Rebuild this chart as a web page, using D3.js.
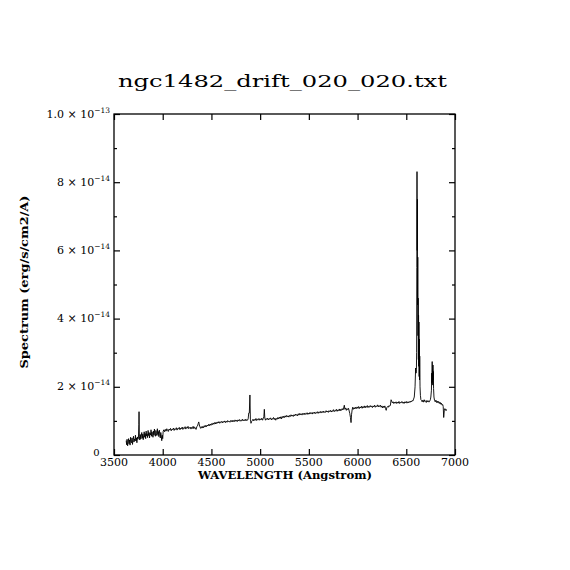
<!DOCTYPE html>
<html><head><meta charset="utf-8">
<script src="https://cdn.jsdelivr.net/npm/d3@7"></script>
<style>
html,body{margin:0;padding:0;background:#fff;}
svg{display:block;}
text{font-family:"DejaVu Serif","Liberation Serif",serif;fill:#000;}
</style></head><body>
<svg id="chart" width="570" height="570"></svg>
<script>
const titleText = "ngc1482_drift_020_020.txt";
const xLabel = "WAVELENGTH (Angstrom)";
const yLabel = "Spectrum (erg/s/cm2/A)";
const xTicks = [3500, 4000, 4500, 5000, 5500, 6000, 6500, 7000];
const yMajorTicks = [0, 2e-14, 4e-14, 6e-14, 8e-14, 1e-13];
const yMinorTicks = [1e-14, 3e-14, 5e-14, 7e-14, 9e-14];
const yTickLabels = [
  {main: "0", exp: ""},
  {main: "2 × 10", exp: "−14"},
  {main: "4 × 10", exp: "−14"},
  {main: "6 × 10", exp: "−14"},
  {main: "8 × 10", exp: "−14"},
  {main: "1.0 × 10", exp: "−13"}
];
const fluxUnit = 1e-14;
// [wavelength (Angstrom), flux (1e-14 erg/s/cm2/A)]
const spectrum = [
[3625,0.42],[3630,0.30],[3634,0.46],[3640,0.27],[3645,0.38],[3650,0.48],[3655,0.33],[3660,0.44],
[3665,0.29],[3670,0.52],[3675,0.40],[3680,0.36],[3685,0.50],[3690,0.31],[3695,0.45],[3700,0.55],
[3705,0.38],[3710,0.47],[3715,0.42],[3720,0.58],[3725,0.41],[3730,0.50],[3735,0.36],[3740,0.53],
[3745,0.46],[3751,0.50],[3755,0.90],[3757,1.27],[3760,0.55],[3765,0.44],[3770,0.60],[3775,0.47],
[3780,0.56],[3785,0.66],[3790,0.49],[3795,0.61],[3800,0.45],[3805,0.58],[3810,0.68],[3815,0.52],
[3820,0.63],[3825,0.48],[3830,0.70],[3835,0.56],[3840,0.62],[3845,0.51],[3850,0.72],[3855,0.57],
[3860,0.66],[3865,0.50],[3870,0.64],[3875,0.59],[3880,0.74],[3885,0.55],[3890,0.68],[3895,0.60],
[3900,0.52],[3905,0.70],[3910,0.58],[3915,0.76],[3920,0.61],[3925,0.55],[3930,0.72],[3935,0.63],
[3940,0.57],[3945,0.77],[3950,0.60],[3955,0.69],[3960,0.54],[3965,0.73],[3970,0.62],[3975,0.50],
[3980,0.66],[3985,0.56],[3990,0.42],[3995,0.58],[4000,0.48],
[4005,0.70],[4012,0.74],[4020,0.68],[4027,0.75],[4035,0.70],[4042,0.77],[4050,0.72],[4057,0.69],
[4065,0.76],[4072,0.73],[4080,0.78],[4087,0.71],[4095,0.76],[4102,0.74],[4110,0.79],[4117,0.72],
[4125,0.77],[4132,0.75],[4140,0.80],[4147,0.73],[4155,0.78],[4162,0.76],[4170,0.81],[4177,0.74],
[4185,0.79],[4192,0.77],[4200,0.82],[4207,0.75],[4215,0.80],[4222,0.78],[4230,0.83],[4237,0.76],
[4245,0.81],[4252,0.79],[4260,0.84],[4267,0.77],[4275,0.80],[4282,0.82],[4290,0.76],[4297,0.81],
[4305,0.78],[4312,0.84],[4320,0.77],[4327,0.82],[4335,0.80],[4342,0.75],[4350,0.83],[4357,0.85],
[4364,0.92],[4370,0.97],[4376,0.88],[4383,0.82],[4390,0.78],[4397,0.83],[4405,0.79],[4412,0.84],
[4420,0.80],[4427,0.86],[4435,0.82],[4442,0.87],[4450,0.83],[4457,0.88],[4465,0.85],[4472,0.90],
[4480,0.86],[4487,0.91],[4495,0.87],[4502,0.92],[4510,0.89],[4517,0.94],[4525,0.90],[4532,0.95],
[4540,0.91],[4547,0.96],[4555,0.92],[4562,0.97],[4570,0.94],[4577,0.98],[4585,0.93],[4592,0.97],
[4600,0.95],[4607,0.99],[4615,0.94],[4622,0.98],[4630,0.96],[4637,1.00],[4645,0.95],[4652,0.99],
[4660,0.96],[4667,1.01],[4675,0.97],[4682,0.99],[4690,0.96],[4697,1.01],[4705,0.98],[4712,1.02],
[4720,0.97],[4727,1.01],[4735,0.98],[4742,1.03],[4750,0.99],[4757,1.02],[4765,0.98],[4772,1.03],
[4780,1.00],[4787,1.04],[4795,0.99],[4802,1.02],[4810,1.00],[4817,1.05],[4825,1.00],[4832,1.03],
[4840,1.01],[4847,1.05],[4855,1.00],[4862,1.04],[4870,1.02],[4877,1.06],[4883,1.23],[4889,1.23],
[4895,1.76],[4900,1.05],[4906,0.93],[4912,0.98],[4920,1.01],[4927,1.05],[4935,1.00],[4942,1.04],
[4950,1.02],[4957,1.07],[4965,1.01],[4972,1.05],[4980,1.03],[4987,1.07],[4995,1.02],[5002,1.06],
[5010,1.03],[5017,1.08],[5025,1.02],[5032,1.07],[5038,1.12],[5043,1.34],[5048,1.08],[5055,1.02],
[5062,1.07],[5070,1.04],[5077,1.08],[5085,1.03],[5092,1.07],[5100,1.05],[5107,1.09],[5115,1.03],
[5122,1.07],[5130,1.05],[5137,1.10],[5145,1.04],[5152,1.08],[5160,1.02],[5167,1.07],[5175,1.05],
[5182,1.10],[5190,1.06],[5197,1.11],[5205,1.07],[5212,1.12],[5220,1.06],[5227,1.13],[5235,1.09],
[5242,1.14],[5250,1.10],[5257,1.15],[5265,1.11],[5272,1.16],[5280,1.12],[5287,1.15],[5295,1.11],
[5302,1.16],[5310,1.13],[5317,1.18],[5325,1.14],[5332,1.17],[5340,1.13],[5347,1.18],[5355,1.15],
[5362,1.20],[5370,1.16],[5377,1.19],[5385,1.15],[5392,1.21],[5400,1.17],[5407,1.22],[5415,1.18],
[5422,1.21],[5430,1.17],[5437,1.22],[5445,1.19],[5452,1.23],[5460,1.18],[5467,1.22],[5475,1.20],
[5482,1.24],[5490,1.19],[5497,1.23],[5505,1.20],[5512,1.25],[5520,1.21],[5527,1.24],[5535,1.20],
[5542,1.25],[5550,1.22],[5557,1.26],[5565,1.21],[5572,1.25],[5580,1.23],[5587,1.27],[5595,1.22],
[5602,1.26],[5610,1.24],[5617,1.28],[5625,1.23],[5632,1.27],[5640,1.25],[5647,1.29],[5655,1.24],
[5662,1.27],[5670,1.25],[5677,1.30],[5685,1.26],[5692,1.29],[5700,1.25],[5707,1.30],[5715,1.27],
[5722,1.31],[5730,1.26],[5737,1.30],[5745,1.28],[5752,1.33],[5760,1.27],[5767,1.31],[5775,1.29],
[5782,1.34],[5790,1.28],[5797,1.32],[5805,1.30],[5812,1.35],[5820,1.29],[5827,1.34],[5835,1.31],
[5842,1.36],[5850,1.32],[5857,1.38],[5864,1.46],[5870,1.34],[5877,1.38],[5885,1.31],[5892,1.36],
[5900,1.33],[5907,1.37],[5914,1.29],[5920,1.22],[5927,1.10],[5933,0.95],[5938,1.18],[5944,1.32],
[5950,1.40],[5957,1.34],[5965,1.39],[5972,1.35],[5980,1.40],[5987,1.36],[5995,1.41],[6002,1.37],
[6010,1.42],[6017,1.36],[6025,1.41],[6032,1.38],[6040,1.43],[6047,1.37],[6055,1.42],[6062,1.39],
[6070,1.44],[6077,1.38],[6085,1.43],[6092,1.40],[6100,1.45],[6107,1.39],[6115,1.43],[6122,1.40],
[6130,1.45],[6137,1.41],[6145,1.44],[6152,1.39],[6160,1.44],[6167,1.41],[6175,1.46],[6182,1.40],
[6190,1.44],[6197,1.42],[6205,1.47],[6212,1.41],[6220,1.45],[6227,1.42],[6235,1.46],[6242,1.40],
[6250,1.44],[6257,1.38],[6265,1.43],[6272,1.39],[6280,1.44],[6287,1.36],[6294,1.31],[6300,1.39],
[6307,1.42],[6315,1.40],[6322,1.45],[6330,1.43],[6337,1.46],[6344,1.62],[6350,1.58],[6357,1.53],
[6365,1.56],[6372,1.51],[6380,1.55],[6387,1.52],[6395,1.56],[6402,1.51],[6410,1.55],[6417,1.52],
[6425,1.57],[6432,1.51],[6440,1.55],[6447,1.53],[6455,1.57],[6462,1.52],[6470,1.55],[6477,1.51],
[6485,1.56],[6492,1.53],[6500,1.57],[6507,1.52],[6515,1.56],[6522,1.53],[6530,1.57],[6537,1.54],
[6545,1.58],[6552,1.56],[6560,1.60],[6567,1.58],[6575,1.64],[6582,1.70],[6590,2.00],[6596,2.55],
[6600,2.40],[6604,2.50],[6606,3.00],[6608,5.50],[6610,8.31],[6612,6.00],[6614,7.50],[6616,4.40],
[6618,5.80],[6620,3.50],[6622,4.60],[6624,2.80],[6626,4.10],[6628,2.60],[6630,3.90],[6632,2.30],
[6634,3.40],[6636,2.20],[6638,2.90],[6641,2.00],[6645,1.75],[6650,1.62],[6656,1.60],[6663,1.56],
[6670,1.61],[6677,1.55],[6684,1.62],[6691,1.57],[6698,1.59],[6705,1.54],[6712,1.60],[6719,1.56],
[6726,1.59],[6733,1.55],[6740,1.58],[6747,1.62],[6752,1.70],[6758,1.90],[6761,2.40],[6763,2.10],
[6766,2.74],[6768,2.15],[6770,2.50],[6772,2.05],[6774,2.64],[6776,2.20],[6778,2.45],[6780,1.95],
[6784,1.70],[6790,1.60],[6797,1.56],[6804,1.61],[6811,1.54],[6818,1.58],[6825,1.53],[6832,1.57],
[6839,1.51],[6846,1.55],[6853,1.49],[6860,1.52],[6867,1.46],[6874,1.48],[6879,1.42],[6884,1.10],
[6890,1.30],[6896,1.36],[6902,1.31],[6908,1.34],[6913,1.30]
];

const svg = d3.select("#chart");
const pLeft = 114, pRight = 455, pTop = 114, pBottom = 455;
const x = d3.scaleLinear().domain([3500, 7000]).range([pLeft, pRight]);
const y = d3.scaleLinear().domain([0, 1e-13]).range([pBottom, pTop]);

const axisStyle = g => { g.select(".domain").remove(); g.selectAll("line").attr("stroke","#000").attr("stroke-width",1.2); g.selectAll("text").remove(); };
svg.append("g").attr("transform",`translate(0,${pBottom})`).call(d3.axisBottom(x).tickValues(xTicks).tickSize(-6)).call(axisStyle);
svg.append("g").attr("transform",`translate(0,${pTop})`).call(d3.axisTop(x).tickValues(xTicks).tickSize(-6)).call(axisStyle);
svg.append("g").attr("transform",`translate(${pLeft},0)`).call(d3.axisLeft(y).tickValues(yMajorTicks).tickSize(-6)).call(axisStyle);
svg.append("g").attr("transform",`translate(${pLeft},0)`).call(d3.axisLeft(y).tickValues(yMinorTicks).tickSize(-3)).call(axisStyle);
svg.append("g").attr("transform",`translate(${pRight},0)`).call(d3.axisRight(y).tickValues(yMajorTicks).tickSize(-6)).call(axisStyle);
svg.append("g").attr("transform",`translate(${pRight},0)`).call(d3.axisRight(y).tickValues(yMinorTicks).tickSize(-3)).call(axisStyle);

svg.append("rect").attr("x",pLeft).attr("y",pTop).attr("width",pRight-pLeft).attr("height",pBottom-pTop)
  .attr("fill","none").attr("stroke","#000").attr("stroke-width",1.3);

const line = d3.line().x(d => x(d[0])).y(d => y(d[1]*fluxUnit));
svg.append("path").datum(spectrum).attr("d",line).attr("fill","none").attr("stroke","#000").attr("stroke-width",0.9);

svg.append("g").selectAll("text").data(xTicks).join("text")
  .attr("x",d => x(d)).attr("y",pBottom+10.5).attr("text-anchor","middle")
  .attr("font-size",11).attr("textLength",28).attr("lengthAdjust","spacingAndGlyphs")
  .text(d => d);

yMajorTicks.forEach((v,i) => {
  const lab = yTickLabels[i];
  const t = svg.append("text").attr("x", lab.exp ? pLeft-4 : pLeft-14.5).attr("y", lab.exp ? y(v)+3.5 : y(v)+0.5)
    .attr("text-anchor","end").attr("font-size",lab.exp ? 11 : 10);
  t.append("tspan").text(lab.main);
  if (lab.exp) t.append("tspan").attr("dy",-5).attr("font-size",7.5).text(lab.exp);
});

svg.append("text").attr("x",282.5).attr("y",87).attr("text-anchor","middle")
  .attr("font-size",17).attr("textLength",329).attr("lengthAdjust","spacingAndGlyphs").text(titleText);

svg.append("text").attr("x",285).attr("y",479).attr("text-anchor","middle")
  .attr("font-size",10.5).attr("font-weight","bold").attr("textLength",174).attr("lengthAdjust","spacingAndGlyphs").text(xLabel);

svg.append("text").attr("transform","translate(28,282) rotate(-90)").attr("text-anchor","middle")
  .attr("font-size",10.5).attr("font-weight","bold").attr("textLength",173).attr("lengthAdjust","spacingAndGlyphs").text(yLabel);
</script>
</body></html>
